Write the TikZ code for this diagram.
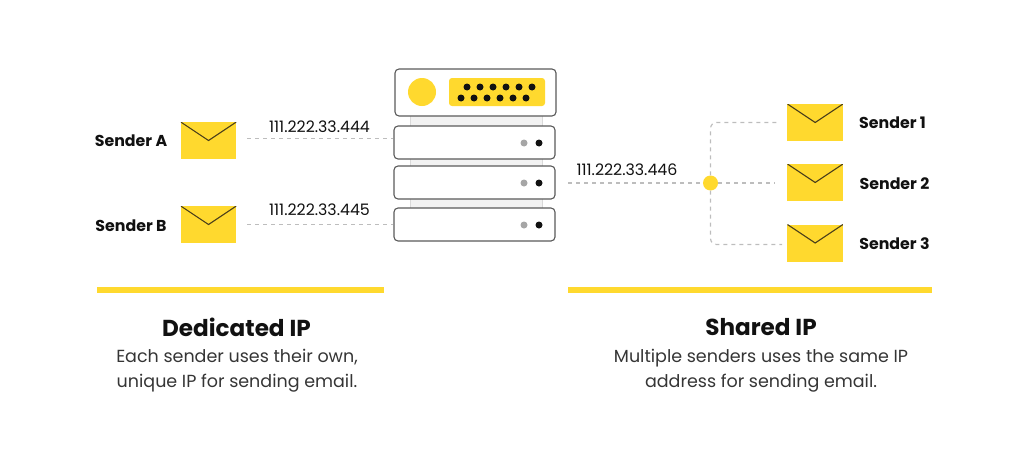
\documentclass[tikz,border=0pt]{standalone}
\usepackage{fontspec}
\setmainfont{Poppins}
\usetikzlibrary{calc}
\definecolor{ylw}{HTML}{FFD92E}
\definecolor{ink}{HTML}{111111}
\definecolor{frame}{HTML}{5A5A5A}
\definecolor{dashc}{HTML}{BDBDBD}
\definecolor{flap}{HTML}{4A3F1A}
\tikzset{
  x=1pt,y=-1pt,
  envelope/.style={rectangle,fill=ylw,inner sep=0pt,minimum width=55.5pt,minimum height=37pt,
    path picture={\draw[flap,line width=1.1pt]
      (path picture bounding box.north west) --
      ($(path picture bounding box.north)+(0,18.5)$) --
      (path picture bounding box.north east);}},
  unit/.style={rectangle,draw=frame,line width=1.1pt,fill=white,rounded corners=4pt,inner sep=0pt,minimum width=161pt,minimum height=33pt},
  topunit/.style={unit,minimum height=47pt},
  led/.style={circle,inner sep=0pt,minimum size=7pt},
  sendername/.style={font=\fontsize{15.8}{18}\selectfont\bfseries\color{ink},inner sep=0pt,anchor=center},
  ip/.style={font=\fontsize{15.8}{18}\selectfont\color{ink},inner sep=0pt,anchor=center},
  link/.style={draw=dashc,line width=1.2pt,dash pattern=on 4pt off 4pt},
  bar/.style={rectangle,fill=ylw,inner sep=0pt,minimum height=6pt},
  heading/.style={font=\fontsize{23.1}{26}\selectfont\bfseries\color{ink},inner sep=0pt,anchor=center},
  body/.style={font=\fontsize{17.5}{25}\selectfont\color{ink!85!white},align=center,inner sep=0pt,anchor=center},
}
\begin{document}
\begin{tikzpicture}
\useasboundingbox (0,0) rectangle (1024,466);
% rack backing
\node[rectangle,draw=black!15,fill=black!5,line width=0.8pt,inner sep=0pt,minimum width=132pt,minimum height=100pt] (rack) at (476,162) {};
% server units
\node[topunit] (top) at (475.5,92.5) {};
\node[unit] (u1) at (474.5,142.5) {};
\node[unit] (u2) at (474.5,182.5) {};
\node[unit] (u3) at (474.5,224.5) {};
\node[circle,fill=ylw,inner sep=0pt,minimum size=28pt] (lamp) at (422,92) {};
\node[rectangle,fill=ylw,rounded corners=3pt,inner sep=0pt,minimum width=96pt,minimum height=28pt] (panel) at (497,92) {};
\foreach \n/\x in {a/467,b/480,c/493,d/506,e/519,f/532}
  \node[led,fill=ink] (t\n) at (\x,87) {};
\foreach \n/\x in {a/461,b/474,c/487,d/500,e/513,f/526}
  \node[led,fill=ink] (s\n) at (\x,98) {};
\foreach \i/\y in {1/143,2/183,3/225}{
  \node[led,fill=black!35] (g\i) at (524,\y) {};
  \node[led,fill=ink] (k\i) at (539,\y) {};
}
% envelopes
\node[envelope] (envA) at (208.5,140.5) {};
\node[envelope] (envB) at (208.5,224.5) {};
\node[envelope] (env1) at (815.2,122.5) {};
\node[envelope] (env2) at (815.2,182.5) {};
\node[envelope] (env3) at (815.2,243) {};
% sender names
\node[sendername] (nA) at (131,141) {Sender A};
\node[sendername] (nB) at (131,226) {Sender B};
\node[sendername] (n1) at (892.5,123) {Sender 1};
\node[sendername] (n2) at (894.5,184) {Sender 2};
\node[sendername] (n3) at (894.5,244) {Sender 3};
% IP labels
\node[ip] (ipA) at (319.5,127) {111.222.33.444};
\node[ip] (ipB) at (319.5,210) {111.222.33.445};
\node[ip] (ipC) at (627,170) {111.222.33.446};
% connectors
\coordinate (sA) at ($(envA.east)+(11,-2)$);
\coordinate (sB) at ($(envB.east)+(11,0)$);
\coordinate (sC) at (568,183);
\coordinate (e1) at (779,122.5);
\coordinate (e2) at (775,183);
\coordinate (e3) at (782,244.5);
\node[circle,fill=ylw,inner sep=0pt,minimum size=15pt] (hub) at (710.5,183) {};
\draw[link] (sA) -- (u1.west |- sA);
\draw[link] (sB) -- (u3.west |- sB);
\draw[link] (sC) -- (hub.west);
\draw[link] (hub.east) -- (e2);
\draw[link,rounded corners=6pt] (hub.north) -- (hub.north |- e1) -- (e1);
\draw[link,rounded corners=6pt] (hub.south) -- (hub.south |- e3) -- (e3);
% bars
\node[bar,minimum width=287pt] (barL) at (240.5,290) {};
\node[bar,minimum width=364pt] (barR) at (750,290) {};
% captions
\node[heading] (hL) at (236.5,327) {Dedicated IP};
\node[heading] (hR) at (761,327) {Shared IP};
\node[body] (bL) at (237,371) {Each sender uses their own,\\unique IP for sending email.};
\node[body] (bR) at (761,371) {Multiple senders uses the same IP\\address for sending email.};
\end{tikzpicture}
\end{document}
